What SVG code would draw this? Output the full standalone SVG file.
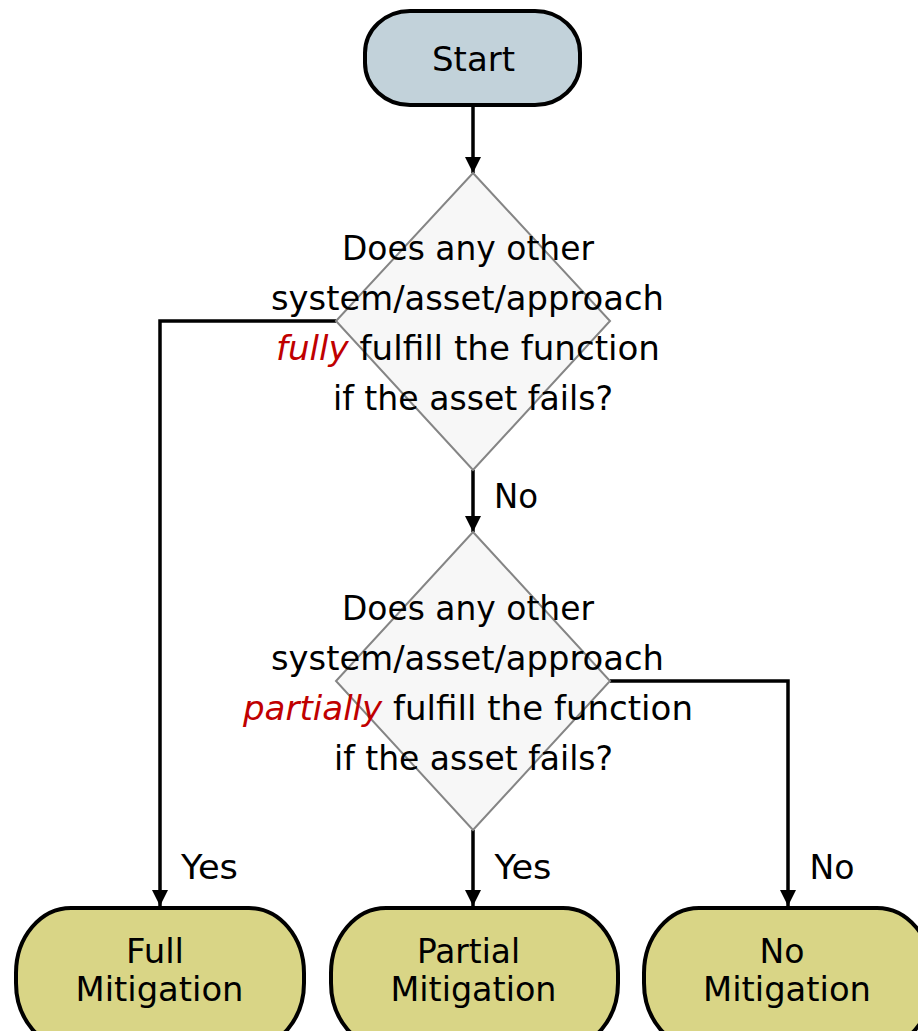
<svg xmlns="http://www.w3.org/2000/svg" width="918" height="1031" viewBox="0 0 918 1031">
  <defs>
    <marker id="arrow" viewBox="0 0 16 16" refX="16" refY="8" markerWidth="16" markerHeight="16" markerUnits="userSpaceOnUse" orient="auto">
      <path d="M0,0 L16,8 L0,16 Z" fill="#000"/>
    </marker>
  </defs>
  <style>
    .terminal { stroke: #000; stroke-width: 4; }
    .start { fill: #c2d2da; }
    .outcome { fill: #d9d586; }
    .decision { fill: #f7f7f7; stroke: #858585; stroke-width: 2; }
    .label { font-family: "DejaVu Sans", Verdana, sans-serif; font-size: 33px; fill: #000; text-anchor: middle; }
    .big { font-size: 34px; }
    .em { fill: #c00000; font-style: italic; }
    .edge { fill: none; stroke: #000; stroke-width: 3.5; marker-end: url(#arrow); }
  </style>

  <g id="connectors">
    <path class="edge" d="M473,105 V173"/>
    <path class="edge" d="M336,321 H160 V906"/>
    <path class="edge" d="M473,470 V532"/>
    <path class="edge" d="M473,830 V906"/>
    <path class="edge" d="M610,681 H788 V906"/>
    <text class="label" x="516" y="508" font-size="32" textLength="44" lengthAdjust="spacingAndGlyphs">No</text>
    <text class="label" x="209.5" y="879" font-size="32" textLength="57" lengthAdjust="spacingAndGlyphs">Yes</text>
    <text class="label" x="523" y="879" font-size="32" textLength="57" lengthAdjust="spacingAndGlyphs">Yes</text>
    <text class="label" x="832" y="879" font-size="32" textLength="45" lengthAdjust="spacingAndGlyphs">No</text>
  </g>

  <g id="start">
    <rect class="terminal start" x="365" y="11" width="215" height="94" rx="45" ry="42"/>
    <text class="label big" x="473.5" y="71" textLength="83" lengthAdjust="spacingAndGlyphs">Start</text>
  </g>

  <g id="decision-full">
    <polygon class="decision" points="473,173 610,321 473,470 336,321"/>
    <text class="label" x="468" y="260" textLength="252" lengthAdjust="spacingAndGlyphs">Does any other</text>
    <text class="label" x="467.5" y="310" textLength="393" lengthAdjust="spacingAndGlyphs">system/asset/approach</text>
    <text class="label" x="468" y="360" textLength="384" lengthAdjust="spacingAndGlyphs"><tspan class="em">fully</tspan> fulfill the function</text>
    <text class="label" x="473" y="410" textLength="280" lengthAdjust="spacingAndGlyphs">if the asset fails?</text>
  </g>

  <g id="decision-partial">
    <polygon class="decision" points="473,532 610,681 473,830 336,681"/>
    <text class="label" x="468" y="620" textLength="252" lengthAdjust="spacingAndGlyphs">Does any other</text>
    <text class="label" x="467.5" y="670" textLength="393" lengthAdjust="spacingAndGlyphs">system/asset/approach</text>
    <text class="label" x="468" y="720" textLength="450" lengthAdjust="spacingAndGlyphs"><tspan class="em">partially</tspan> fulfill the function</text>
    <text class="label" x="473.5" y="770" textLength="279" lengthAdjust="spacingAndGlyphs">if the asset fails?</text>
  </g>

  <g id="full-mitigation">
    <rect class="terminal outcome" x="16" y="908" width="288" height="140" rx="55" ry="65"/>
    <text class="label big" x="155" y="963" textLength="58" lengthAdjust="spacingAndGlyphs">Full</text>
    <text class="label big" x="159.5" y="1001" textLength="168" lengthAdjust="spacingAndGlyphs">Mitigation</text>
  </g>

  <g id="partial-mitigation">
    <rect class="terminal outcome" x="331" y="908" width="287" height="140" rx="55" ry="65"/>
    <text class="label big" x="468.5" y="963" textLength="103" lengthAdjust="spacingAndGlyphs">Partial</text>
    <text class="label big" x="473.5" y="1001" textLength="166" lengthAdjust="spacingAndGlyphs">Mitigation</text>
  </g>

  <g id="no-mitigation">
    <rect class="terminal outcome" x="644" y="908" width="288" height="140" rx="55" ry="65"/>
    <text class="label big" x="782" y="963" textLength="45" lengthAdjust="spacingAndGlyphs">No</text>
    <text class="label big" x="787" y="1001" textLength="168" lengthAdjust="spacingAndGlyphs">Mitigation</text>
  </g>
</svg>
